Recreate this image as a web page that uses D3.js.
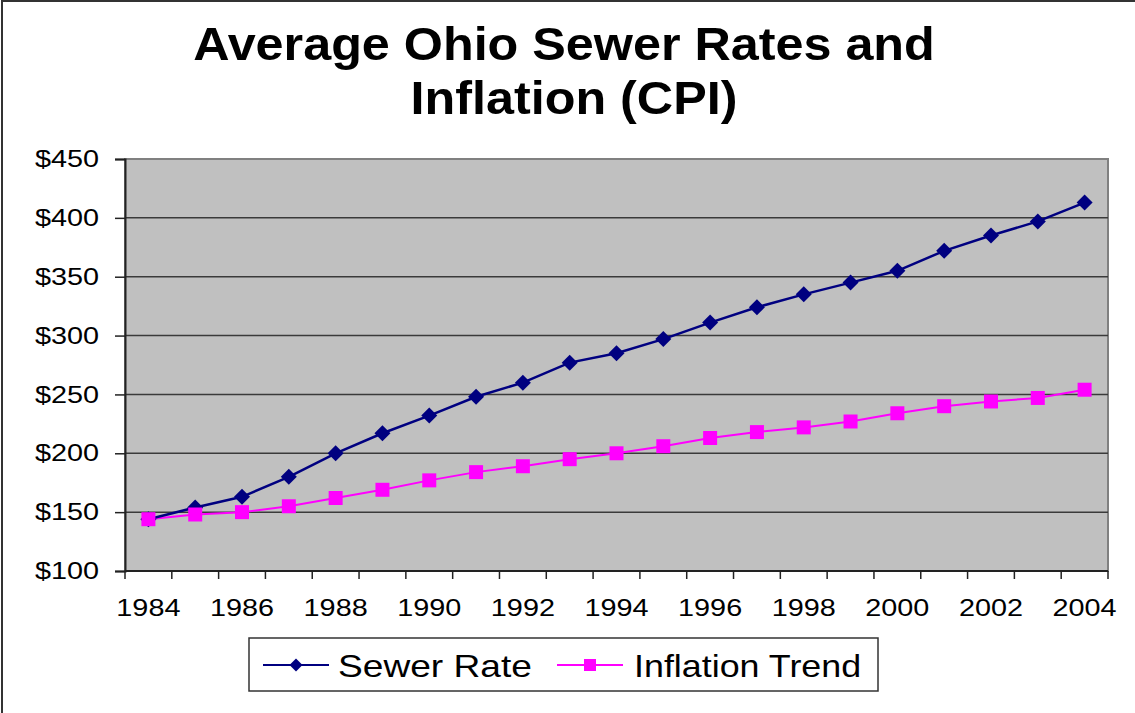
<!DOCTYPE html>
<html>
<head>
<meta charset="utf-8">
<script src="https://cdnjs.cloudflare.com/ajax/libs/d3/7.8.5/d3.min.js"></script>
<style>
  body { margin: 0; background: #fff; }
  svg { display: block; font-family: Arial, "Liberation Sans", sans-serif; }
</style>
</head>
<body>
<svg id="chart" width="1135" height="713"></svg>
<script>
const years = d3.range(1984, 2005)
const sewerRate = [144, 154, 163, 180, 200, 217, 232, 248, 260, 277, 285, 297, 311, 324, 335, 345, 355, 372, 385, 397, 413]
const inflation = [144, 148, 150, 155, 162, 169, 177, 184, 189, 195, 200, 206, 213, 218, 222, 227, 234, 240, 244, 247, 254]
const yTicks = [100, 150, 200, 250, 300, 350, 400, 450]
const xLabels = years.filter(y => y % 2 === 0)

const svg = d3.select("#chart")

// the original text is drawn a bit wider than Arial, stretch it horizontally
function stretch(sel, k) {
    sel.each(function() {
        const len = this.getComputedTextLength()
        d3.select(this).attr("textLength", len * k).attr("lengthAdjust", "spacingAndGlyphs")
    })
}

// outer chart border
svg.append("rect")
    .attr("x", 2).attr("y", 1)
    .attr("width", 1200).attr("height", 800)
    .attr("fill", "#fff")
    .attr("stroke", "#333").attr("stroke-width", 2)

// title
const titleLines = [
    {text: "Average Ohio Sewer Rates and", x: 564, y: 60},
    {text: "Inflation (CPI)", x: 574, y: 114}
]
svg.selectAll(".title")
    .data(titleLines)
    .enter().append("text")
    .attr("class", "title")
    .attr("x", d => d.x).attr("y", d => d.y)
    .attr("text-anchor", "middle")
    .attr("font-weight", "bold")
    .attr("font-size", 47)
    .text(d => d.text)
    .call(stretch, 1.07)

const plot = {left: 125, top: 159, right: 1108, bottom: 571}

const x = d3.scaleBand()
    .domain(years)
    .range([plot.left, plot.right])

const y = d3.scaleLinear()
    .domain([100, 450])
    .range([plot.bottom, plot.top])

// plot area
svg.append("rect")
    .attr("x", plot.left).attr("y", plot.top)
    .attr("width", plot.right - plot.left).attr("height", plot.bottom - plot.top)
    .attr("fill", "#c0c0c0")
    .attr("stroke", "#808080").attr("stroke-width", 2)

// gridlines
svg.append("g")
    .selectAll("line")
    .data(yTicks.slice(1, -1))
    .enter().append("line")
    .attr("x1", plot.left).attr("x2", plot.right)
    .attr("y1", d => y(d)).attr("y2", d => y(d))
    .attr("stroke", "#3a3a3a").attr("stroke-width", 1.5)

// y axis
const yAxis = svg.append("g")
    .attr("transform", `translate(${plot.left},0)`)
    .call(d3.axisLeft(y).tickValues(yTicks).tickSize(10).tickPadding(16).tickFormat(d => "$" + d))
yAxis.select(".domain").attr("stroke", "#222").attr("stroke-width", 2)
yAxis.selectAll(".tick line").attr("stroke", "#222").attr("stroke-width", 1.5)
yAxis.selectAll("text")
    .attr("font-size", 24)
    .attr("font-family", "Arial, 'Liberation Sans', sans-serif")
    .attr("fill", "#000")
    .attr("text-anchor", "end")
    .call(stretch, 1.2)

// x axis: ticks between categories, labels every other year
const xAxis = svg.append("g")
    .attr("transform", `translate(0,${plot.bottom})`)
xAxis.append("line")
    .attr("x1", plot.left).attr("x2", plot.right)
    .attr("stroke", "#222").attr("stroke-width", 2)
xAxis.selectAll(".tk")
    .data(years.concat([2005]))
    .enter().append("line")
    .attr("class", "tk")
    .attr("x1", d => d === 2005 ? plot.right : x(d))
    .attr("x2", d => d === 2005 ? plot.right : x(d))
    .attr("y1", 0).attr("y2", 8)
    .attr("stroke", "#222").attr("stroke-width", 1.5)
xAxis.selectAll(".lbl")
    .data(xLabels)
    .enter().append("text")
    .attr("class", "lbl")
    .attr("x", d => x(d) + x.bandwidth() / 2)
    .attr("y", 45)
    .attr("text-anchor", "middle")
    .attr("font-size", 24)
    .text(d => d)
    .call(stretch, 1.2)

const cx = d => x(d) + x.bandwidth() / 2

const line = d3.line()
    .x((d, i) => cx(years[i]))
    .y(d => y(d))

// series
svg.append("path")
    .datum(inflation)
    .attr("d", line)
    .attr("fill", "none")
    .attr("stroke", "#ff00ff").attr("stroke-width", 2)

svg.append("path")
    .datum(sewerRate)
    .attr("d", line)
    .attr("fill", "none")
    .attr("stroke", "#000080").attr("stroke-width", 2.5)

const diamond = d3.symbol().type(d3.symbolSquare).size(128)
const square = d3.symbol().type(d3.symbolSquare).size(196)

svg.append("g").selectAll("path")
    .data(sewerRate)
    .enter().append("path")
    .attr("d", diamond)
    .attr("transform", (d, i) => `translate(${cx(years[i])},${y(d)}) rotate(45)`)
    .attr("fill", "#000080")

svg.append("g").selectAll("path")
    .data(inflation)
    .enter().append("path")
    .attr("d", square)
    .attr("transform", (d, i) => `translate(${cx(years[i])},${y(d)})`)
    .attr("fill", "#ff00ff")

// legend
const legend = svg.append("g")
legend.append("rect")
    .attr("x", 249).attr("y", 638)
    .attr("width", 629).attr("height", 53)
    .attr("fill", "#fff")
    .attr("stroke", "#333").attr("stroke-width", 1.5)

const items = [
    {name: "Sewer Rate", color: "#000080", x0: 263, sym: "diamond", tx: 338, k: 1.16},
    {name: "Inflation Trend", color: "#ff00ff", x0: 557, sym: "square", tx: 634, k: 1.12}
]
items.forEach(it => {
    legend.append("line")
        .attr("x1", it.x0).attr("x2", it.x0 + 66)
        .attr("y1", 665).attr("y2", 665)
        .attr("stroke", it.color).attr("stroke-width", 2)
    legend.append("path")
        .attr("d", d3.symbol().type(d3.symbolSquare).size(it.sym === "diamond" ? 85 : 144))
        .attr("transform", `translate(${it.x0 + 33},665)` + (it.sym === "diamond" ? " rotate(45)" : ""))
        .attr("fill", it.color)
    legend.append("text")
        .attr("x", it.tx).attr("y", 677)
        .attr("font-size", 32)
        .text(it.name)
        .call(stretch, it.k)
})
</script>
</body>
</html>
